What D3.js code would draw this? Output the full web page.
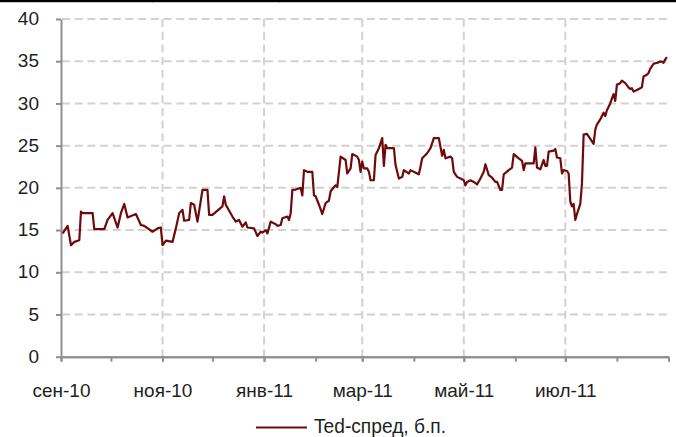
<!DOCTYPE html>
<html><head><meta charset="utf-8">
<script src="https://cdn.jsdelivr.net/npm/d3@7"></script>
<style>
html,body{margin:0;padding:0;background:#fff;}
svg{display:block;}
text{font-family:"Liberation Sans",Arial,sans-serif;fill:#1e1e1e;}
</style></head>
<body>
<svg id="c" width="676" height="437"></svg>
<script>
const dates = ["2010-09-02","2010-09-05","2010-09-07","2010-09-09","2010-09-12","2010-09-13","2010-09-14","2010-09-20","2010-09-21","2010-09-27","2010-09-29",
"2010-10-02","2010-10-05","2010-10-07","2010-10-09","2010-10-11","2010-10-16","2010-10-19","2010-10-21","2010-10-26","2010-10-29","2010-10-31",
"2010-11-01","2010-11-03","2010-11-07","2010-11-09","2010-11-11","2010-11-13","2010-11-14","2010-11-17","2010-11-18","2010-11-20","2010-11-22","2010-11-25","2010-11-28","2010-11-29",
"2010-12-01","2010-12-07","2010-12-08","2010-12-09","2010-12-13","2010-12-15","2010-12-17","2010-12-19","2010-12-21","2010-12-22","2010-12-26","2010-12-28","2010-12-30","2010-12-31",
"2011-01-02","2011-01-03","2011-01-05","2011-01-08","2011-01-09","2011-01-11","2011-01-12","2011-01-15","2011-01-16","2011-01-17","2011-01-18","2011-01-20","2011-01-23","2011-01-24","2011-01-25","2011-01-27","2011-01-30","2011-01-31",
"2011-02-01","2011-02-03","2011-02-05","2011-02-07","2011-02-09","2011-02-10","2011-02-12","2011-02-13","2011-02-14","2011-02-16","2011-02-19","2011-02-20","2011-02-22","2011-02-23","2011-02-26","2011-02-27","2011-02-28",
"2011-03-01","2011-03-02","2011-03-04","2011-03-05","2011-03-06","2011-03-08","2011-03-09","2011-03-11","2011-03-13","2011-03-14","2011-03-15","2011-03-16","2011-03-20","2011-03-21","2011-03-23","2011-03-25","2011-03-26","2011-03-29","2011-03-30",
"2011-04-03","2011-04-04","2011-04-05","2011-04-06","2011-04-09","2011-04-11","2011-04-13","2011-04-16","2011-04-18","2011-04-19","2011-04-20","2011-04-23","2011-04-24","2011-04-25","2011-04-27","2011-04-29",
"2011-05-01","2011-05-02","2011-05-03","2011-05-05","2011-05-07","2011-05-09","2011-05-11","2011-05-13","2011-05-14","2011-05-16","2011-05-18","2011-05-20","2011-05-21","2011-05-23","2011-05-24","2011-05-25","2011-05-28","2011-05-30","2011-05-31",
"2011-06-03","2011-06-05","2011-06-06","2011-06-07","2011-06-12","2011-06-13","2011-06-14","2011-06-16","2011-06-18","2011-06-19","2011-06-20","2011-06-21","2011-06-24","2011-06-25","2011-06-26","2011-06-28","2011-06-29","2011-06-30",
"2011-07-02","2011-07-03","2011-07-04","2011-07-05","2011-07-06","2011-07-07","2011-07-08","2011-07-10","2011-07-11","2011-07-12","2011-07-14","2011-07-16","2011-07-18","2011-07-19","2011-07-20","2011-07-22","2011-07-23","2011-07-24","2011-07-25","2011-07-26","2011-07-28","2011-07-29","2011-07-30","2011-07-31",
"2011-08-01","2011-08-03","2011-08-04","2011-08-06","2011-08-08","2011-08-09","2011-08-10","2011-08-11","2011-08-13","2011-08-15","2011-08-16","2011-08-17","2011-08-19","2011-08-20","2011-08-21","2011-08-23","2011-08-25","2011-08-27","2011-08-28","2011-08-29","2011-08-30","2011-08-31"];

const tedSpread = [14.6,15.5,13.2,13.6,13.8,17.2,17.0,17.0,15.1,15.1,16.2,
17.0,15.3,17.0,18.1,16.5,16.9,15.6,15.5,14.8,15.2,15.3,
13.2,13.75,13.6,15.2,17.0,17.4,16.1,16.2,18.2,18.0,16.0,19.75,19.75,16.8,
16.8,17.8,19.0,18.0,16.6,16.0,16.2,15.4,15.9,15.3,15.2,14.3,14.8,14.7,
15.0,14.6,16.0,15.7,15.5,15.6,16.4,16.6,16.2,17.0,19.75,19.8,20.0,19.1,22.1,21.9,21.9,19.1,
19.0,18.0,16.9,18.2,18.5,19.6,20.1,20.3,20.1,23.7,23.3,21.7,22.3,24.0,23.7,23.3,21.9,
23.1,22.3,22.3,21.9,20.9,20.9,23.9,24.7,25.9,22.6,25.1,24.7,24.7,22.7,21.1,21.3,22.1,21.7,22.1,
21.7,21.6,22.5,23.5,24.1,24.7,25.9,25.9,23.8,24.5,23.5,23.7,23.5,21.9,21.3,21.1,
20.9,20.3,20.7,20.9,20.7,20.4,21.1,21.9,22.8,21.5,21.2,20.7,20.7,19.75,19.75,21.6,22.1,22.4,24.0,
23.5,23.2,22.1,22.9,22.9,24.8,22.4,22.2,23.3,22.6,22.6,24.3,24.4,24.6,23.6,23.5,21.7,22.1,
22.0,21.7,18.4,17.8,18.1,16.2,16.9,18.1,20.5,26.3,26.4,25.8,25.2,26.9,27.5,28.1,28.5,28.9,28.5,29.2,30.0,30.6,31.1,30.3,
32.2,32.4,32.7,32.4,31.9,31.7,31.8,31.4,31.6,31.8,31.9,33.2,33.4,33.6,34.1,34.7,34.8,34.95,34.95,34.8,35.2,35.5];

const yTicks = [0,5,10,15,20,25,30,35,40];
const xTickDates = ["2010-09-01","2010-11-01","2011-01-01","2011-03-01","2011-05-01","2011-07-01"];
const xTickLabels = ["сен-10","ноя-10","янв-11","мар-11","май-11","июл-11"];
const seriesName = "Ted-спред, б.п.";

const parse = d3.utcParse("%Y-%m-%d");
const data = dates.map((d,i)=>({date:parse(d), v:tedSpread[i]}));

const svg = d3.select("#c");
const x = d3.scaleUtc().domain([parse("2010-09-01"), parse("2011-09-01")]).range([61, 668.5]);
const y = d3.scaleLinear().domain([0,40]).range([356.7, 19]);

// top border line
svg.append("rect").attr("x",0).attr("y",0).attr("width",676).attr("height",2.2).attr("fill","#000");
svg.append("line").attr("x1",152.7).attr("x2",152.7).attr("y1",2).attr("y2",3.2).attr("stroke","#aaa");
svg.append("line").attr("x1",279).attr("x2",279).attr("y1",2).attr("y2",3.2).attr("stroke","#aaa");

const grid = svg.append("g");
const gridStyle = sel => sel.attr("stroke","#d2d2d2").attr("stroke-width",2).attr("stroke-dasharray","8,4.7").attr("fill","none");
grid.selectAll(".hg").data(yTicks.filter(t=>t>0)).join("line")
  .attr("x1",x.range()[0]+1).attr("x2",x.range()[1])
  .attr("y1",d=>y(d)).attr("y2",d=>y(d)).call(gridStyle);
grid.selectAll(".vg").data(xTickDates.slice(1).map(parse)).join("line")
  .attr("x1",d=>x(d)).attr("x2",d=>x(d))
  .attr("y1",y(40)).attr("y2",y(0)).call(gridStyle);

// axes
const axisColor = "#8f8f8f";
const yAxis = svg.append("g").attr("transform",`translate(${x.range()[0]},0)`)
  .call(d3.axisLeft(y).tickValues(yTicks).tickSize(5).tickPadding(17).tickSizeOuter(0));
yAxis.select(".domain").attr("stroke",axisColor).attr("stroke-width",2);
yAxis.selectAll(".tick line").attr("stroke",axisColor).attr("stroke-width",2);
yAxis.selectAll("text").attr("font-size",19).attr("fill","#1e1e1e").attr("font-family",null).attr("dy","0.3em");

const minor = svg.append("g").attr("transform",`translate(0,${y(0)})`)
  .call(d3.axisBottom(x).ticks(d3.utcMonth.every(1)).tickSize(5).tickFormat("").tickSizeOuter(0));
minor.select(".domain").attr("stroke",axisColor).attr("stroke-width",2);
minor.selectAll(".tick line").attr("stroke",axisColor).attr("stroke-width",2);

const xAxis = svg.append("g").attr("transform",`translate(0,${y(0)})`)
  .call(d3.axisBottom(x).tickValues(xTickDates.map(parse)).tickFormat((d,i)=>xTickLabels[i]).tickSize(5).tickPadding(22).tickSizeOuter(0));
xAxis.select(".domain").attr("stroke",axisColor).attr("stroke-width",2);
xAxis.selectAll(".tick line").attr("stroke",axisColor).attr("stroke-width",2);
xAxis.selectAll("text").attr("font-size",19).attr("fill","#1e1e1e").attr("font-family",null);

// series
const line = d3.line().x(d=>x(d.date)).y(d=>y(d.v));
svg.append("path").datum(data).attr("d",line)
  .attr("fill","none").attr("stroke","#6e0a0a").attr("stroke-width",2.2).attr("stroke-linejoin","round");

// legend
const lg = svg.append("g");
lg.append("line").attr("x1",256).attr("x2",307).attr("y1",427.5).attr("y2",427.5).attr("stroke","#6e0a0a").attr("stroke-width",2.2);
lg.append("text").attr("x",314).attr("y",433.3).attr("font-size",20.5)
  .attr("textLength",132).attr("lengthAdjust","spacingAndGlyphs").text(seriesName);
</script>
</body></html>
